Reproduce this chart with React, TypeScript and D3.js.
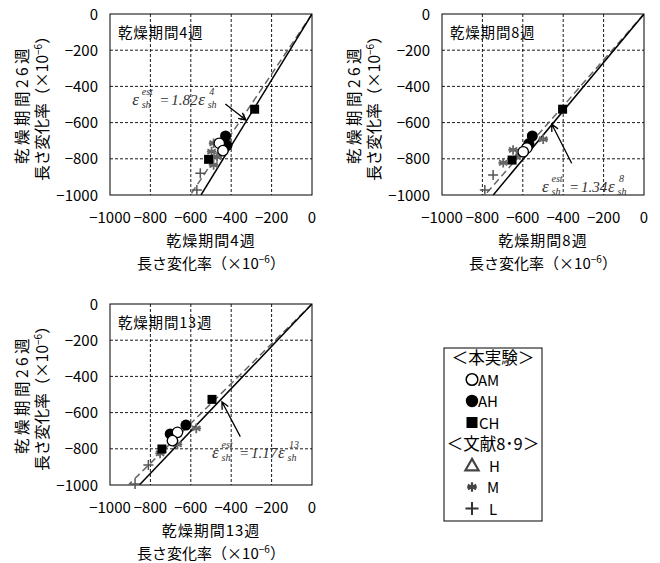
import React from "react";
import * as d3 from "d3";

// ---------- data ----------
const xTicks = [-1000, -800, -600, -400, -200, 0];
const yTicks = [0, -200, -400, -600, -800, -1000];
const periods = ["4", "8", "13"];
const fitSlopes = [1.82, 1.34, 1.17];
const trendSlopes = [1.66, 1.27, 1.1];

const amPoints = [
  [[-459, -714], [-441, -755]],
  [[-580, -740], [-598, -761]],
  [[-666, -709], [-691, -755]],
];
const ahPoints = [
  [[-428, -674], [-421, -727]],
  [[-553, -674], [-570, -716]],
  [[-624, -669], [-702, -718]],
];
const chPoints = [
  [[-284, -526], [-512, -803]],
  [[-403, -526], [-653, -807]],
  [[-495, -527], [-743, -801]],
];
const mPoints = [
  [[-487, -714], [-497, -760], [-470, -790], [-487, -834], [-420, -700]],
  [[-499, -692], [-648, -751], [-614, -779], [-697, -822]],
  [[-573, -687], [-666, -775], [-752, -825]],
];
const lPoints = [
  [[-553, -880], [-570, -972]],
  [[-747, -890], [-788, -972]],
  [[-810, -890], [-876, -995]],
];
// annotation anchors (data coords): label start, arrow tail, arrow head
const labelAt = [[-890, -500], [-505, -982], [-495, -850]];
const arrowFrom = [[-429, -497], [-358, -825], [-355, -733]];
const arrowTo = [[-327, -586], [-457, -608], [-446, -540]];

// ---------- layout ----------
const W = 202;
const H = 181;
const origins = [
  { x: 110, y: 14 },
  { x: 442, y: 14 },
  { x: 110, y: 304 },
];
const JP = "'Noto Sans CJK JP', 'Noto Sans', sans-serif";
const SERIF = "'Liberation Serif', 'DejaVu Serif', serif";

const fmt = (v: number) => (v < 0 ? "\u2212" + Math.abs(v) : String(v));

function Asterisk({ x, y, r = 4.8, color = "#666", sw = 1.8 }: any) {
  const p = d3.path();
  for (let i = 0; i < 3; i++) {
    const a = (Math.PI / 3) * i + Math.PI / 2;
    p.moveTo(x + r * Math.cos(a), y + r * Math.sin(a));
    p.lineTo(x - r * Math.cos(a), y - r * Math.sin(a));
  }
  p.moveTo(x - r, y);
  p.lineTo(x + r, y);
  return <path d={p.toString()} stroke={color} strokeWidth={sw} fill="none" />;
}

function Plus({ x, y, r = 5, color = "#555", sw = 1.5 }: any) {
  const p = d3.path();
  p.moveTo(x - r, y);
  p.lineTo(x + r, y);
  p.moveTo(x, y - r);
  p.lineTo(x, y + r);
  return <path d={p.toString()} stroke={color} strokeWidth={sw} fill="none" />;
}

function Arrow({ x1, y1, x2, y2 }: any) {
  const ang = Math.atan2(y2 - y1, x2 - x1);
  const L = 8;
  const s = 0.45;
  const p = d3.path();
  p.moveTo(x1, y1);
  p.lineTo(x2, y2);
  p.moveTo(x2 - L * Math.cos(ang - s), y2 - L * Math.sin(ang - s));
  p.lineTo(x2, y2);
  p.lineTo(x2 - L * Math.cos(ang + s), y2 - L * Math.sin(ang + s));
  return <path d={p.toString()} stroke="#000" strokeWidth={1.3} fill="none" />;
}

function Equation({ x, y, coef, week }: any) {
  const c = "#333";
  return (
    <g fill={c} fontFamily={SERIF} fontStyle="italic">
      <text x={x} y={y} fontSize={17}>ε</text>
      <text x={x + 9.5} y={y - 9.5} fontSize={10}>est</text>
      <text x={x + 9.5} y={y + 3} fontSize={10}>sh</text>
      <text x={x + 28} y={y} fontSize={15} fontStyle="normal">=</text>
      <text x={x + 39} y={y} fontSize={15}>{coef.toFixed(2)}</text>
      <text x={x + 66} y={y} fontSize={17}>ε</text>
      <text x={x + 77} y={y - 10} fontSize={10}>{week}</text>
      <text x={x + 75.5} y={y + 3} fontSize={10}>sh</text>
    </g>
  );
}

function Panel({ i }: { i: number }) {
  const o = origins[i];
  const xs = d3.scaleLinear().domain([-1000, 0]).range([0, W]);
  const ys = d3.scaleLinear().domain([0, -1000]).range([0, H]);
  const line = d3
    .line<number[]>()
    .x((d) => xs(d[0]))
    .y((d) => ys(d[1]));
  const fit = [[0, 0], [-1000 / fitSlopes[i], -1000]];
  const trend = [[0, 0], [-1000 / trendSlopes[i], -1000]];
  const clipId = "clip" + i;
  const wk = periods[i];
  return (
    <g transform={`translate(${o.x},${o.y})`}>
      <defs>
        <clipPath id={clipId}>
          <rect x={0} y={0} width={W} height={H} />
        </clipPath>
      </defs>
      {/* grid */}
      {xTicks.slice(1, -1).map((t) => (
        <line key={"gx" + t} x1={xs(t)} x2={xs(t)} y1={0} y2={H} stroke="#000" strokeWidth={0.9} strokeDasharray="3,2" />
      ))}
      {yTicks.slice(1, -1).map((t) => (
        <line key={"gy" + t} x1={0} x2={W} y1={ys(t)} y2={ys(t)} stroke="#000" strokeWidth={0.9} strokeDasharray="3,2" />
      ))}
      <rect x={0} y={0} width={W} height={H} fill="none" stroke="#000" strokeWidth={1} />
      {/* tick labels */}
      {yTicks.map((t) => (
        <text key={"yl" + t} x={-12} y={ys(t) + 5.5} textAnchor="end" fontSize={15} fontFamily={JP}>
          {fmt(t)}
        </text>
      ))}
      {xTicks.map((t) => (
        <text key={"xl" + t} x={xs(t)} y={H + 28} textAnchor="middle" fontSize={15} fontFamily={JP}>
          {fmt(t)}
        </text>
      ))}
      {/* titles */}
      <text x={8} y={24} fontSize={14.5} fontFamily={JP} letterSpacing={0.8}>
        乾燥期間{wk}週
      </text>
      <text x={W / 2} y={H + 51} textAnchor="middle" fontSize={15} fontFamily={JP} letterSpacing={1}>
        乾燥期間{wk}週
      </text>
      <text x={W / 2} y={H + 74} textAnchor="middle" fontSize={15} fontFamily={JP}>
        長さ変化率（×10<tspan fontSize={10} dy={-6}>−6</tspan>
        <tspan dy={6}>）</tspan>
      </text>
      <g transform={`translate(-87,${H / 2}) rotate(-90)`}>
        <text x={0} y={5} textAnchor="middle" fontSize={15.5} fontFamily={JP} letterSpacing={3.5}>
          乾燥期間26週
        </text>
      </g>
      <g transform={`translate(-67,${H / 2}) rotate(-90)`}>
        <text x={0} y={5} textAnchor="middle" fontSize={15.5} fontFamily={JP}>
          長さ変化率（×10<tspan fontSize={10} dy={-6}>−6</tspan>
          <tspan dy={6}>）</tspan>
        </text>
      </g>
      {/* fit lines */}
      <g clipPath={`url(#${clipId})`}>
        <path d={line(trend as any) || ""} stroke="#666" strokeWidth={1.5} strokeDasharray="7,4" fill="none" />
        <path d={line(fit as any) || ""} stroke="#000" strokeWidth={1.5} fill="none" />
      </g>
      {/* markers */}
      {lPoints[i].map((d, k) => (
        <Plus key={"l" + k} x={xs(d[0])} y={ys(d[1])} />
      ))}
      {mPoints[i].map((d, k) => (
        <Asterisk key={"m" + k} x={xs(d[0])} y={ys(d[1])} />
      ))}
      {chPoints[i].map((d, k) => (
        <rect key={"c" + k} x={xs(d[0]) - 4.5} y={ys(d[1]) - 4.5} width={9} height={9} fill="#000" />
      ))}
      {ahPoints[i].map((d, k) => (
        <circle key={"h" + k} cx={xs(d[0])} cy={ys(d[1])} r={5.5} fill="#000" />
      ))}
      {amPoints[i].map((d, k) => (
        <circle key={"a" + k} cx={xs(d[0])} cy={ys(d[1])} r={5.2} fill="#fff" stroke="#000" strokeWidth={1.3} />
      ))}
      {/* annotation */}
      <Arrow
        x1={xs(arrowFrom[i][0])}
        y1={ys(arrowFrom[i][1])}
        x2={xs(arrowTo[i][0])}
        y2={ys(arrowTo[i][1])}
      />
      <Equation x={xs(labelAt[i][0])} y={ys(labelAt[i][1])} coef={fitSlopes[i]} week={wk} />
    </g>
  );
}

function Legend() {
  const x0 = 444;
  const y0 = 348;
  const rows = [358, 379.5, 401, 422.5, 444, 465.5, 487, 508.5];
  const fs = 16.5;
  const mx = 472;
  return (
    <g fontFamily={JP} fontSize={fs}>
      <rect x={x0} y={y0} width={98} height={173} fill="#fff" stroke="#000" strokeWidth={1} />
      <text x={493} y={rows[0] + 6} textAnchor="middle">＜本実験＞</text>
      <circle cx={mx} cy={rows[1]} r={5.8} fill="#fff" stroke="#000" strokeWidth={1.5} />
      <text x={478} y={rows[1] + 6} fontSize={15}>AM</text>
      <circle cx={mx} cy={rows[2]} r={6.2} fill="#000" />
      <text x={478} y={rows[2] + 6} fontSize={15}>AH</text>
      <rect x={mx - 5.5} y={rows[3] - 5.5} width={11} height={11} fill="#000" />
      <text x={479} y={rows[3] + 6} fontSize={15}>CH</text>
      <text x={493} y={rows[4] + 6} textAnchor="middle">＜文献8･9＞</text>
      <path
        d={d3.symbol(d3.symbolTriangle, 75)() || ""}
        transform={`translate(${mx},${rows[5] + 1})`}
        fill="none"
        stroke="#444"
        strokeWidth={2.2}
      />
      <text x={489} y={rows[5] + 6} fontSize={15}>H</text>
      <Asterisk x={mx} y={rows[6]} r={4.8} color="#444" sw={2.2} />
      <text x={487} y={rows[6] + 6} fontSize={15}>M</text>
      <Plus x={mx} y={rows[7]} r={6.5} color="#333" sw={2} />
      <text x={489} y={rows[7] + 6} fontSize={15}>L</text>
    </g>
  );
}

export default function App() {
  return (
    <svg
      width={660}
      height={563}
      style={{ position: "absolute", left: 0, top: 0, background: "#fff" }}
    >
      <rect width={660} height={563} fill="#fff" />
      {[0, 1, 2].map((i) => (
        <Panel key={i} i={i} />
      ))}
      <Legend />
    </svg>
  );
}
